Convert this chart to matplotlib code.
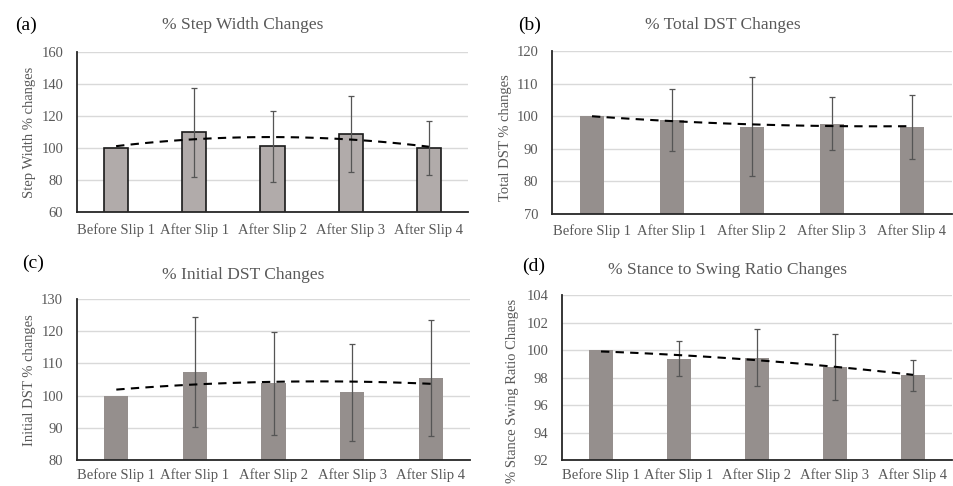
import numpy as np
import matplotlib
matplotlib.use("Agg")
import matplotlib.pyplot as plt

categories = ["Before Slip 1", "After Slip 1", "After Slip 2", "After Slip 3", "After Slip 4"]

step_width = [100, 109.7, 101, 108.8, 100]
step_width_err = [0, 27.7, 22, 23.5, 17]

total_dst = [100, 98.7, 96.8, 97.7, 96.7]
total_dst_err = [0, 9.5, 15.2, 8.2, 9.9]

initial_dst = [100, 107.3, 103.9, 101, 105.4]
initial_dst_err = [0, 17.2, 16, 15, 18]

stance_swing = [100, 99.35, 99.45, 98.8, 98.15]
stance_swing_err = [0, 1.27, 2.1, 2.4, 1.1]

W, H = 954, 486
plt.rcParams['font.family'] = ['Liberation Serif', 'DejaVu Serif']
fig = plt.figure(figsize=(W / 100, H / 100), dpi=100)
fig.patch.set_facecolor('white')

GRAY_TXT = '#595959'

panels = [
    dict(data=step_width, err=step_width_err, ylim=(60, 160), step=20,
         title='% Step Width Changes', ylabel='Step Width % changes', tag='(a)',
         box=(77, 52, 468, 212), color='#b1abaa', edge='#1a1a1a',
         title_xy=(243, 25), tag_xy=(15, 25), ylabel_x=30, ylabel_y=132, xpad=8),
    dict(data=total_dst, err=total_dst_err, ylim=(70, 120), step=10,
         title='% Total DST Changes', ylabel='Total DST % changes', tag='(b)',
         box=(552, 51, 952, 214), color='#958f8d', edge=None,
         title_xy=(723, 25), tag_xy=(518, 25), ylabel_x=506, ylabel_y=138, xpad=7),
    dict(data=initial_dst, err=initial_dst_err, ylim=(80, 130), step=10,
         title='% Initial DST Changes', ylabel='Initial DST % changes', tag='(c)',
         box=(77, 299, 470, 460), color='#958f8d', edge=None,
         title_xy=(243, 275), tag_xy=(22, 263), ylabel_x=30, ylabel_y=380, xpad=6),
    dict(data=stance_swing, err=stance_swing_err, ylim=(92, 104), step=2,
         title='% Stance to Swing Ratio Changes', ylabel='% Stance Swing Ratio Changes', tag='(d)',
         box=(562, 295, 952, 460), color='#958f8d', edge=None,
         title_xy=(728, 270), tag_xy=(522, 266), ylabel_x=513, ylabel_y=391, xpad=6),
]

x = np.arange(len(categories))
for p in panels:
    l, t, r, b = p['box']
    ax = fig.add_axes([l / W, (H - b) / H, (r - l) / W, (b - t) / H])
    ax.set_axisbelow(True)
    ax.bar(x, p['data'], width=0.31, color=p['color'],
           edgecolor=p['edge'] if p['edge'] else p['color'],
           linewidth=1.2 if p['edge'] else 0, zorder=2)
    errs = np.array(p['err'])
    mask = errs > 0
    ax.errorbar(x[mask], np.array(p['data'])[mask], yerr=errs[mask], fmt='none',
                ecolor='#555555', elinewidth=0.9, capsize=2.5, capthick=0.9, zorder=3)
    # Excel-style 2nd order polynomial trendline fitted to the bar values
    coef = np.polyfit(x, p['data'], 2)
    xs = np.linspace(x[0], x[-1], 100)
    ax.plot(xs, np.polyval(coef, xs), color='black', linestyle=(0, (4, 3)),
            linewidth=1.5, zorder=4)
    lo, hi = p['ylim']
    ax.set_ylim(lo, hi)
    ax.set_xlim(-0.5, len(categories) - 0.5)
    ax.set_yticks(np.arange(lo, hi + 0.01, p['step']))
    ax.set_xticks(x)
    ax.set_xticklabels(categories)
    ax.yaxis.grid(True, color='#d9d9d9', linewidth=1)
    ax.tick_params(axis='both', length=0, colors=GRAY_TXT, labelsize=10.5)
    ax.tick_params(axis='y', pad=10)
    ax.tick_params(axis='x', pad=p['xpad'])
    for s in ['top', 'right']:
        ax.spines[s].set_visible(False)
    for s in ['left', 'bottom']:
        ax.spines[s].set_color('#262626')
        ax.spines[s].set_linewidth(1.3)
    fig.text(p['title_xy'][0] / W, 1 - p['title_xy'][1] / H, p['title'],
             ha='center', va='center', fontsize=12.5, color=GRAY_TXT)
    fig.text(p['tag_xy'][0] / W, 1 - p['tag_xy'][1] / H, p['tag'],
             ha='left', va='center', fontsize=14, color='black')
    fig.text(p['ylabel_x'] / W, 1 - p['ylabel_y'] / H, p['ylabel'], rotation=90,
             ha='center', va='center', fontsize=10.5, color=GRAY_TXT)

fig.savefig('out.png', dpi=100, facecolor='white')
